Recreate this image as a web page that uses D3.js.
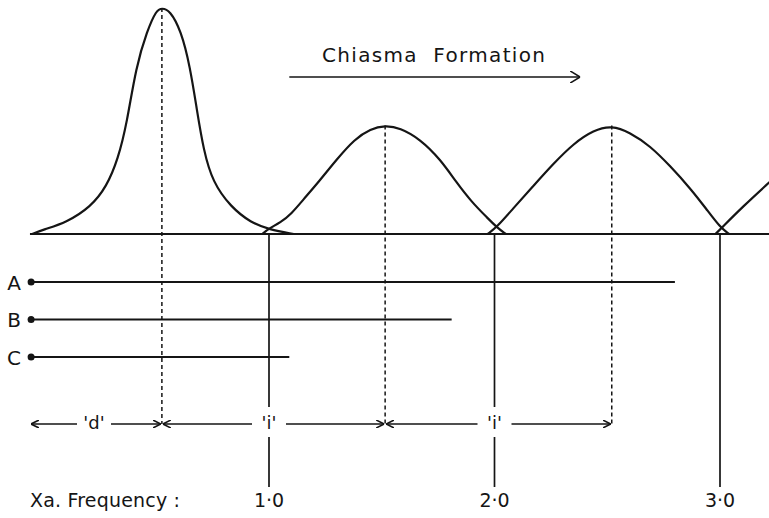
<!DOCTYPE html>
<html>
<head>
<meta charset="utf-8">
<script src="https://cdn.jsdelivr.net/npm/d3@7"></script>
<style>
  html, body { margin: 0; padding: 0; background: #fff; }
  svg { display: block; font-family: "DejaVu Sans", sans-serif; }
</style>
</head>
<body>
<svg id="chart" width="769" height="518"></svg>
<script>
// Frequency of chiasma formation along the chromosome arm.
// x: position in units of Xa frequency, y: relative frequency (first peak = 1).
const curve1X = [-0.05, 0.00, 0.10, 0.21, 0.28, 0.33, 0.37, 0.41, 0.46, 0.50, 0.525, 0.56, 0.61, 0.65, 0.68, 0.71, 0.75, 0.83, 0.92, 1.00, 1.11];
const curve1Y = [0.00, 0.02, 0.05, 0.12, 0.21, 0.33, 0.49, 0.74, 0.90, 0.99, 1.00, 0.99, 0.90, 0.74, 0.55, 0.37, 0.23, 0.12, 0.05, 0.02, 0.00];
const curve2X = [0.97, 1.00, 1.05, 1.10, 1.15, 1.22, 1.30, 1.38, 1.45, 1.515, 1.58, 1.67, 1.76, 1.83, 1.90, 1.97, 2.01, 2.05];
const curve2Y = [0.00, 0.025, 0.05, 0.09, 0.15, 0.23, 0.33, 0.42, 0.465, 0.48, 0.47, 0.42, 0.33, 0.23, 0.14, 0.07, 0.03, 0.00];
const curve3X = [1.97, 2.01, 2.08, 2.17, 2.26, 2.35, 2.44, 2.52, 2.60, 2.69, 2.78, 2.87, 2.94, 3.00, 3.04];
const curve3Y = [0.00, 0.03, 0.11, 0.21, 0.31, 0.40, 0.46, 0.48, 0.45, 0.39, 0.30, 0.20, 0.11, 0.03, 0.00];
const curve4X = [2.98, 3.01, 3.10, 3.22];
const curve4Y = [0.00, 0.03, 0.12, 0.23];

// Peak positions (dashed guides)
const peakX = [0.525, 1.515, 2.52];
const peakY = [1.00, 0.48, 0.48];

// Xa frequency marks
const freqTicks = [1, 2, 3];
const freqLabels = ["1·0", "2·0", "3·0"];

// Chromosomes of different length
const chromosomes = ["A", "B", "C"];
const chromosomeStart = -0.055;
const chromosomeEnds = [2.80, 1.81, 1.09];

// Distances: 'd' (centromere to first chiasma), 'i' (interference distance)
const intervalStarts = [-0.06, 0.525, 1.515];
const intervalEnds = [0.525, 1.515, 2.52];
const intervalLabels = ["'d'", "'i'", "'i'"];
const intervalLabelAt = [0.224, 1.0, 2.0];

// Direction of chiasma formation
const trendFrom = 1.09, trendTo = 2.38;
const titleText = "Chiasma  Formation";
const axisTitle = "Xa. Frequency :";

const svg = d3.select("#chart");
const ink = "#151515";

const x = d3.scaleLinear().domain([0, 3]).range([43.5, 720]);
const y = d3.scaleLinear().domain([0, 1]).range([234, 8]);
const row = d3.scalePoint().domain(chromosomes).range([282, 357]);

const arrowRowY = 424;
const freqLineBottom = 487;
const bottomTextY = 507;

// arrowheads
const defs = svg.append("defs");
function head(id, len, half) {
  defs.append("marker")
    .attr("id", id)
    .attr("markerUnits", "userSpaceOnUse")
    .attr("viewBox", `0 0 ${len} ${half * 2}`)
    .attr("refX", len).attr("refY", half)
    .attr("markerWidth", len).attr("markerHeight", half * 2)
    .attr("orient", "auto-start-reverse")
    .append("path")
    .attr("d", `M0,0 L${len},${half} L0,${half * 2}`)
    .attr("fill", "none").attr("stroke", ink).attr("stroke-width", 1.6);
}
head("headBig", 10, 6);
head("headSmall", 8, 4);

// baseline
svg.append("line")
  .attr("x1", x(-0.06)).attr("x2", x(3.3))
  .attr("y1", y(0)).attr("y2", y(0))
  .attr("stroke", ink).attr("stroke-width", 2.2);

// frequency curves
const line = d3.line()
  .x(d => x(d[0])).y(d => y(d[1]))
  .curve(d3.curveBasis);
[[curve1X, curve1Y], [curve2X, curve2Y], [curve3X, curve3Y], [curve4X, curve4Y]].forEach(([xs, ys]) => {
  svg.append("path")
    .attr("d", line(d3.zip(xs, ys)))
    .attr("fill", "none").attr("stroke", ink).attr("stroke-width", 2.2)
    .attr("stroke-linejoin", "round");
});

// dashed guides from each peak down to the distance row
svg.selectAll(".peak").data(d3.zip(peakX, peakY)).join("line")
  .attr("class", "peak")
  .attr("x1", d => x(d[0])).attr("x2", d => x(d[0]))
  .attr("y1", d => y(d[1])).attr("y2", arrowRowY)
  .attr("stroke", ink).attr("stroke-width", 1.5)
  .attr("stroke-dasharray", "4,3");

// solid lines at integral Xa frequencies, broken where a distance label sits
freqTicks.forEach((t, i) => {
  const hasLabel = intervalLabelAt.includes(t);
  const segs = hasLabel
    ? [[y(0), arrowRowY - 17], [arrowRowY + 13, freqLineBottom]]
    : [[y(0), freqLineBottom]];
  segs.forEach(([a, b]) => {
    svg.append("line")
      .attr("x1", x(t)).attr("x2", x(t))
      .attr("y1", a).attr("y2", b)
      .attr("stroke", ink).attr("stroke-width", 1.7);
  });
  svg.append("text")
    .attr("x", x(t)).attr("y", bottomTextY)
    .attr("text-anchor", "middle")
    .attr("font-size", 19).attr("fill", ink)
    .text(freqLabels[i]);
});

// chromosomes
chromosomes.forEach((c, i) => {
  const cy = row(c);
  svg.append("line")
    .attr("x1", x(chromosomeStart)).attr("x2", x(chromosomeEnds[i]))
    .attr("y1", cy).attr("y2", cy)
    .attr("stroke", ink).attr("stroke-width", 2.2);
  svg.append("circle")
    .attr("cx", x(chromosomeStart)).attr("cy", cy).attr("r", 3.5)
    .attr("fill", ink);
  svg.append("text")
    .attr("x", 14).attr("y", cy + 7.5)
    .attr("text-anchor", "middle")
    .attr("font-size", 20).attr("fill", ink)
    .text(c);
});

// distance arrows
intervalLabels.forEach((lab, i) => {
  const a = x(intervalStarts[i]), b = x(intervalEnds[i]), m = x(intervalLabelAt[i]);
  const gap = 17;
  svg.append("line")
    .attr("x1", m - gap).attr("x2", a + 1)
    .attr("y1", arrowRowY).attr("y2", arrowRowY)
    .attr("stroke", ink).attr("stroke-width", 1.6)
    .attr("marker-end", "url(#headSmall)");
  svg.append("line")
    .attr("x1", m + gap).attr("x2", b - 1)
    .attr("y1", arrowRowY).attr("y2", arrowRowY)
    .attr("stroke", ink).attr("stroke-width", 1.6)
    .attr("marker-end", "url(#headSmall)");
  svg.append("text")
    .attr("x", m).attr("y", arrowRowY + 5)
    .attr("text-anchor", "middle")
    .attr("font-size", 18).attr("fill", ink)
    .text(lab);
});

// title with direction arrow
svg.append("text")
  .attr("x", 322).attr("y", 62)
  .attr("font-size", 20).attr("fill", ink)
  .attr("textLength", 223).attr("lengthAdjust", "spacing")
  .style("white-space", "pre")
  .text(titleText);
svg.append("line")
  .attr("x1", x(trendFrom)).attr("x2", x(trendTo))
  .attr("y1", 77).attr("y2", 77)
  .attr("stroke", ink).attr("stroke-width", 1.7)
  .attr("marker-end", "url(#headBig)");

// axis caption
svg.append("text")
  .attr("x", 30).attr("y", bottomTextY)
  .attr("font-size", 19).attr("fill", ink)
  .attr("textLength", 150).attr("lengthAdjust", "spacing")
  .style("white-space", "pre")
  .text(axisTitle);
</script>
</body>
</html>
